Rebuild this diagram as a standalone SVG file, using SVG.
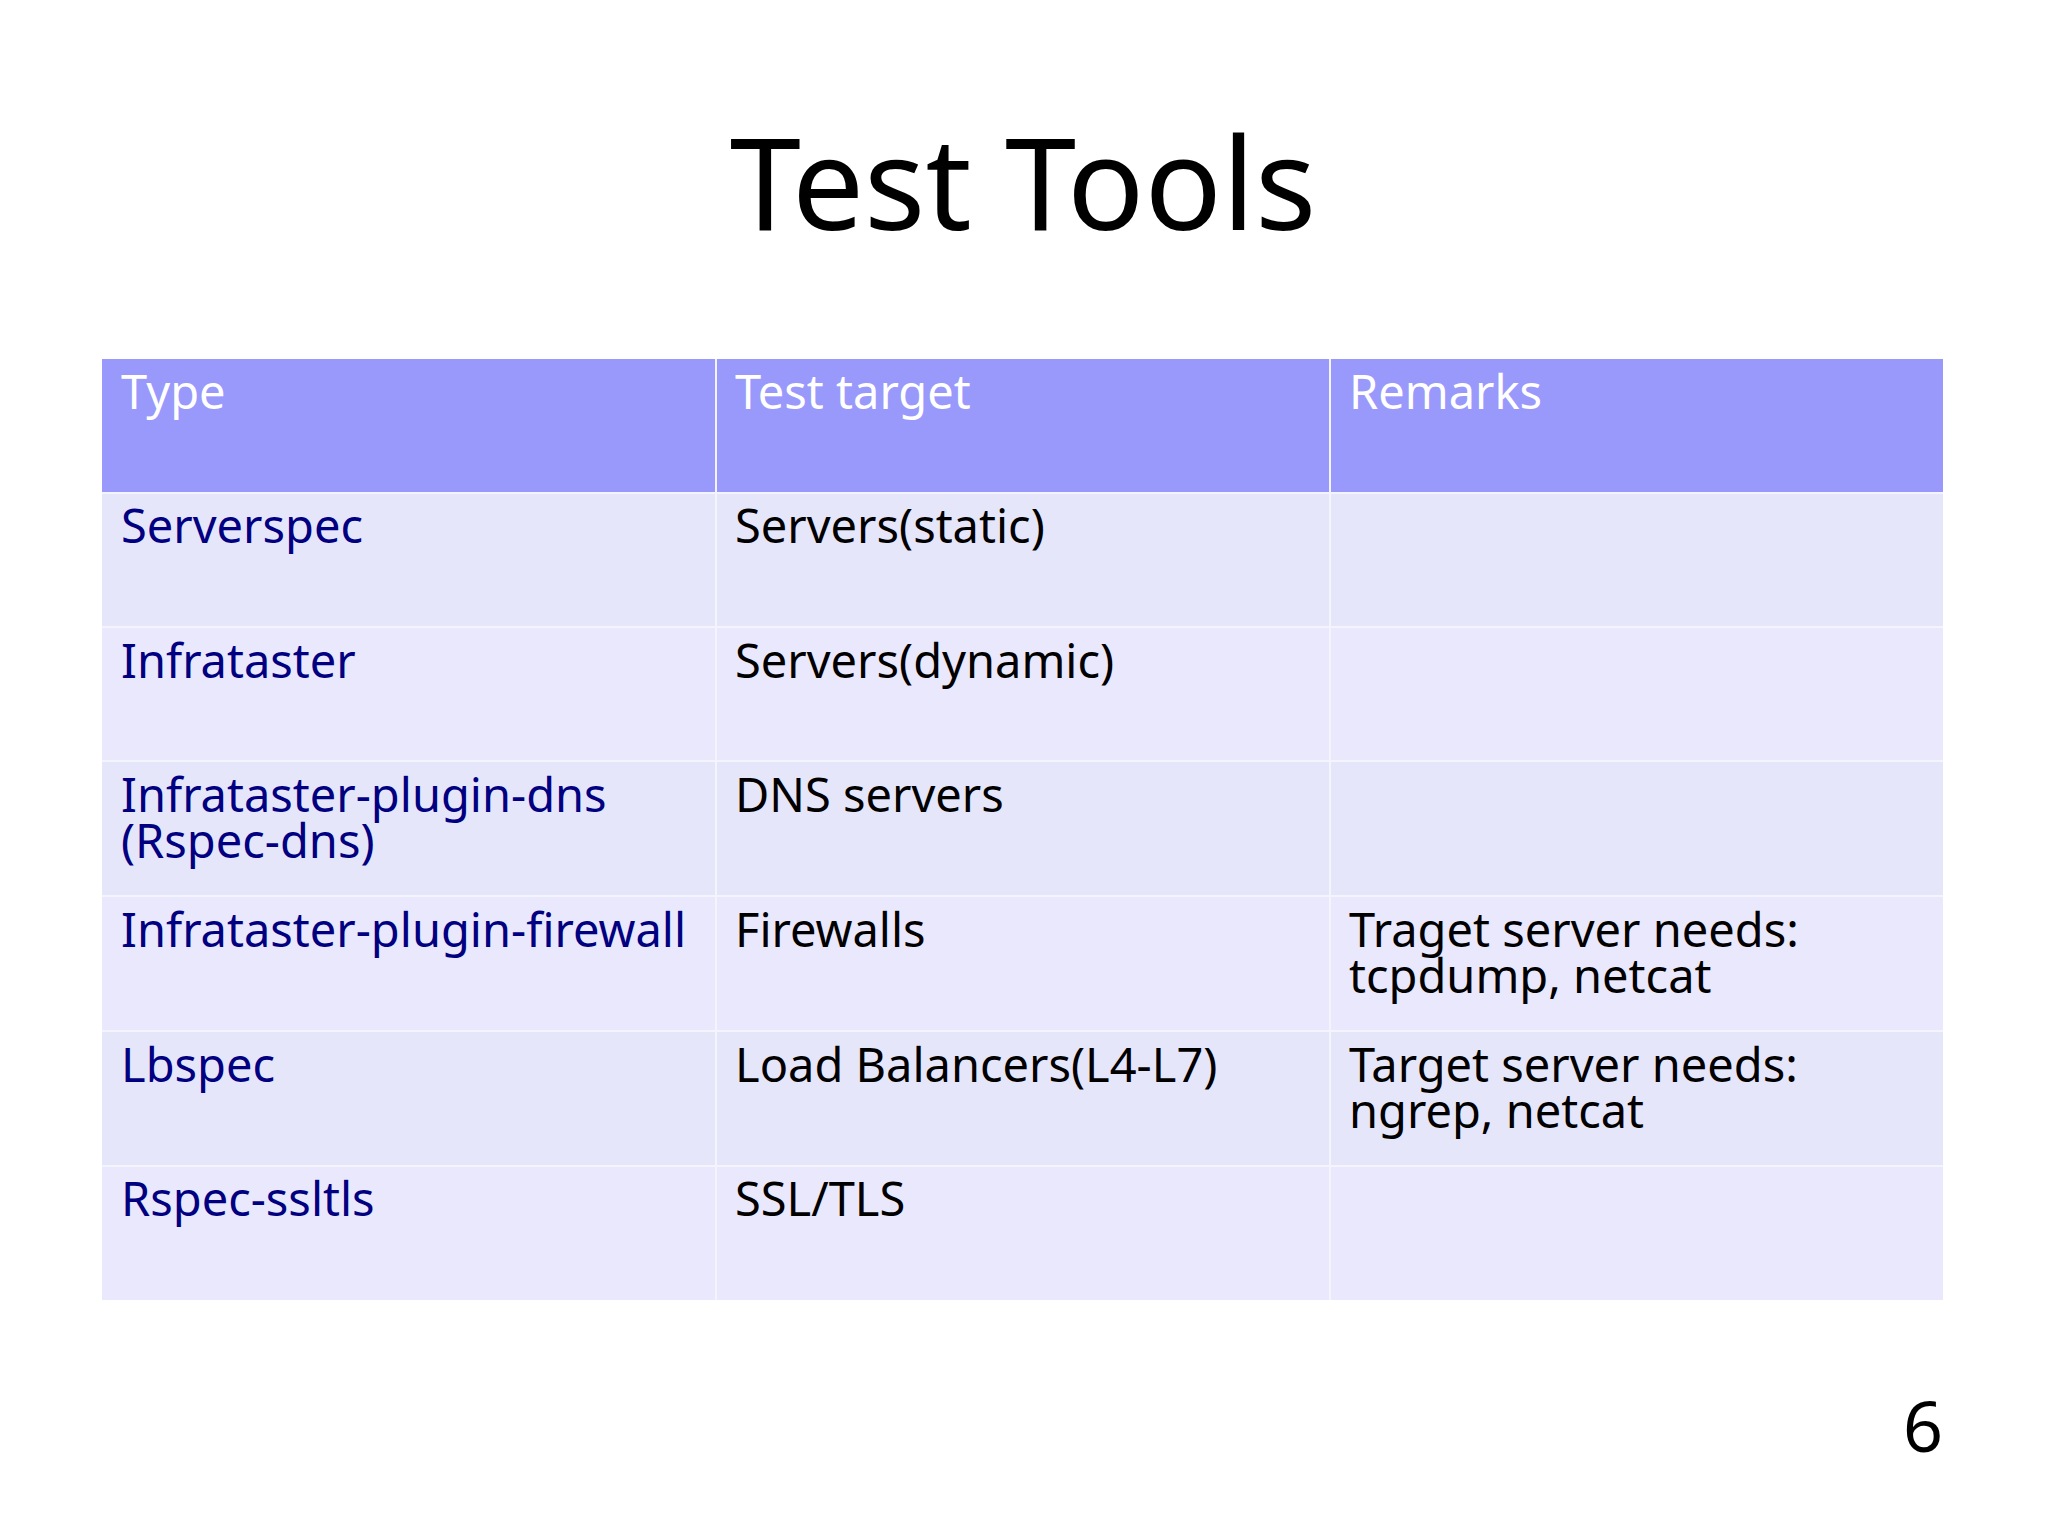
<svg xmlns="http://www.w3.org/2000/svg" width="2048" height="1535" viewBox="0 0 2048 1535">
<style>
text{font-family:"Noto Sans","Liberation Sans",sans-serif}
.h{fill:#fff;font-size:47px}
.t{fill:#000080;font-size:47px}
.c{fill:#000;font-size:47px}
.row{fill:#e6e6fb}
.row2{fill:#e9e8fc}
line{stroke:#f4f4ff;stroke-width:2}
</style>
<rect width="2048" height="1535" fill="#fff"/>
<text x="1023" y="230" text-anchor="middle" font-size="128" fill="#000">Test Tools</text>
<g id="table">
<rect x="102" y="359" width="1841" height="134" fill="#9999fb"/>
<rect class="row" x="102" y="493" width="1841" height="134"/>
<rect class="row2" x="102" y="627" width="1841" height="134"/>
<rect class="row" x="102" y="761" width="1841" height="135"/>
<rect class="row2" x="102" y="896" width="1841" height="135"/>
<rect class="row" x="102" y="1031" width="1841" height="135"/>
<rect class="row2" x="102" y="1166" width="1841" height="134"/>
<line x1="716" y1="359" x2="716" y2="1300"/>
<line x1="1330" y1="359" x2="1330" y2="1300"/>
<line x1="102" y1="493" x2="1943" y2="493"/>
<line x1="102" y1="627" x2="1943" y2="627"/>
<line x1="102" y1="761" x2="1943" y2="761"/>
<line x1="102" y1="896" x2="1943" y2="896"/>
<line x1="102" y1="1031" x2="1943" y2="1031"/>
<line x1="102" y1="1166" x2="1943" y2="1166"/>
</g>
<g id="header">
<text class="h" x="121" y="409">Type</text>
<text class="h" x="735" y="409">Test target</text>
<text class="h" x="1349" y="409">Remarks</text>
</g>
<g id="rows">
<text class="t" x="121" y="543">Serverspec</text>
<text class="c" x="735" y="543">Servers(static)</text>
<text class="t" x="121" y="678">Infrataster</text>
<text class="c" x="735" y="678">Servers(dynamic)</text>
<text class="t" x="121" y="812">Infrataster-plugin-dns</text>
<text class="t" x="121" y="858">(Rspec-dns)</text>
<text class="c" x="735" y="812">DNS servers</text>
<text class="t" x="121" y="947">Infrataster-plugin-firewall</text>
<text class="c" x="735" y="947">Firewalls</text>
<text class="c" x="1349" y="947">Traget server needs:</text>
<text class="c" x="1349" y="993">tcpdump, netcat</text>
<text class="t" x="121" y="1082">Lbspec</text>
<text class="c" x="735" y="1082">Load Balancers(L4-L7)</text>
<text class="c" x="1349" y="1082">Target server needs:</text>
<text class="c" x="1349" y="1128">ngrep, netcat</text>
<text class="t" x="121" y="1216">Rspec-ssltls</text>
<text class="c" x="735" y="1216">SSL/TLS</text>
</g>
<text x="1943" y="1452" text-anchor="end" font-size="70" fill="#000">6</text>
</svg>
